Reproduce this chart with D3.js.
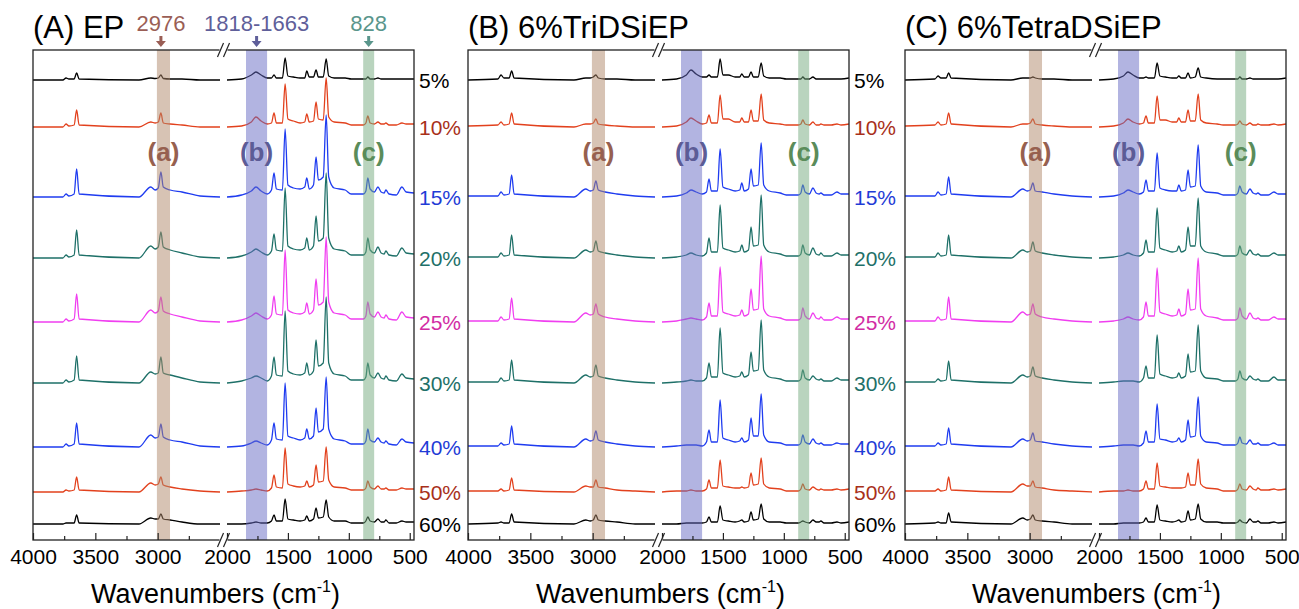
<!DOCTYPE html>
<html>
<head>
<meta charset="utf-8">
<script src="https://cdn.jsdelivr.net/npm/d3@7"></script>
<style>
  body { margin: 0; background: #fff; }
  text { font-family: Arial, "Liberation Sans", sans-serif; }
</style>
</head>
<body>
<svg id="chart" width="1299" height="609"></svg>
<script>
// ---- data ----
const concentrations = ["5%", "10%", "15%", "20%", "25%", "30%", "40%", "50%", "60%"];
const baselines = [460, 413, 343, 282, 218, 157, 93, 48, 16];   // stacking offsets (a.u.)
const panelTitles = ["(A) EP", "(B) 6%TriDSiEP", "(C) 6%TetraDSiEP"];

// wavenumber grids (cm-1) for the two halves of the broken axis
const wnLeft = [4000, 3760, 3735, 3712, 3670, 3650, 3630, 3150, 3055, 3020, 2995, 2974, 2955, 2900, 2805, 2660, 2500];
const wnRight = [2000, 1880, 1800, 1762, 1720, 1670, 1635, 1614, 1595, 1545, 1523, 1500, 1455, 1400, 1362, 1345, 1325, 1290, 1269, 1250,
                 1210, 1186, 1165, 1120, 1030, 980, 880, 860, 844, 825, 790, 761, 735, 710, 696, 670, 610, 564, 530, 465];

// (A) EP
const epLeft = [
  [0,0,2,1,1,7,1,0,2,1.5,2,5,1.5,1,1,0,0],
  [0,0,3,1,2,17,2,0,5,4,5,14,4,3,2,0,0],
  [0,0,3,1,3,28,3,0,10,7,9,25,10,7,5,1,0],
  [0,0,3,1,3,28,3,0,12,9,11,26,11,8,5,1,0],
  [0,0,3,1,3,28,3,0,12,9,11,25,11,8,5,1,0],
  [0,0,3,1,3,27,3,0,11,9,10,26,10,8,5,1,0],
  [0,0,3,1,3,24,3,0,12,9,10,23,10,7,5,1,0],
  [0,0,2,1,2,15,2,0,9,7,8,15,7,5,3,1,0],
  [0,0,1,1,1,9,1,0,6,5,5,10,5,4,2,0,0]
];
const epRight = [
  [0,1,5,8,5,2,2,5,2,2,22,4,3,2,2,9,3,3,10,3,3,21,4,2,2,1,1,1,3,1,1,2,1,1,1,1,1,1,1,1],
  [0,1,5,10,6,3,4,14,4,4,43,8,6,4,5,13,5,6,25,8,7,49,10,5,4,2,2,4,11,4,3,5,3,3,4,2,2,4,3,3],
  [0,2,6,10,6,3,7,24,8,7,68,12,9,8,10,19,8,12,40,17,20,82,20,9,7,3,3,6,19,8,5,10,5,4,7,3,2,10,5,4],
  [0,2,6,9,6,3,7,24,8,7,70,12,9,8,10,20,8,12,42,17,20,85,20,9,7,3,3,6,20,8,5,11,5,4,7,3,2,10,5,4],
  [0,2,6,9,6,3,7,26,8,7,72,12,9,8,10,19,8,12,43,17,20,85,20,9,7,3,3,6,20,8,5,10,5,4,7,3,2,10,5,4],
  [0,2,5,7,5,2,7,26,8,7,72,12,9,8,10,20,8,12,43,17,20,86,20,9,7,3,3,6,20,8,5,10,5,4,7,3,2,9,5,4],
  [0,1,4,6,4,2,7,24,8,7,64,11,9,7,9,18,8,11,39,15,18,70,18,8,6,3,3,6,18,7,5,9,5,4,6,3,2,8,5,4],
  [0,1,2,3,2,1,4,17,5,4,44,8,6,5,6,11,5,7,27,10,11,45,12,5,4,2,2,4,11,5,3,6,3,3,4,2,2,4,3,3],
  [0,0,1,2,1,1,3,9,3,3,25,5,4,3,4,8,3,5,16,6,7,24,7,3,3,1,1,3,7,3,2,5,2,2,4,1,1,3,2,2]
];

// (B) 6%TriDSiEP
const triLeft = [
  [0,1,5,2,2,9,2,0,2,2,3,5,2,1,1,0,0],
  [1,2,5,2,3,14,3,0,3,3,4,8,3,2,1,0,0],
  [1,1,5,2,3,22,3,0,8,6,7,16,7,5,3,1,0],
  [1,1,5,2,3,23,3,0,8,6,7,17,7,5,3,1,0],
  [1,1,5,2,3,24,3,0,9,7,8,18,8,5,3,1,0],
  [1,1,5,2,3,23,3,0,8,6,7,18,7,5,3,1,0],
  [1,1,4,2,3,21,3,0,8,6,7,16,7,5,3,1,0],
  [1,1,3,1,2,14,2,0,6,5,5,12,5,4,2,1,0],
  [0,1,2,1,1,10,2,0,4,3,4,9,4,3,2,0,0]
];
const triRight = [
  [0,1,5,10,6,3,3,5,3,3,21,5,5,3,3,6,3,3,8,3,3,17,4,2,2,1,1,1,3,1,1,3,1,1,1,1,1,1,1,2],
  [0,1,5,9,6,3,4,12,4,4,32,8,8,5,5,9,5,5,17,6,6,33,7,4,3,2,2,3,7,3,2,5,2,2,3,2,2,3,2,3],
  [0,1,4,7,5,3,5,18,6,6,48,10,8,6,7,14,6,8,28,11,12,54,12,6,4,2,2,4,12,5,3,9,4,3,4,2,2,5,3,3],
  [0,1,3,5,3,2,5,20,6,6,53,10,8,6,7,13,6,8,31,12,13,63,13,6,4,2,2,4,13,5,3,10,4,3,5,2,2,5,3,3],
  [0,1,3,4,3,2,5,19,6,6,55,10,8,6,7,12,6,8,33,12,13,66,13,6,4,2,2,4,14,6,3,9,4,3,5,2,2,5,3,3],
  [0,1,2,3,2,2,5,20,6,6,55,10,8,6,7,11,6,8,31,12,13,63,13,6,4,2,2,4,13,5,3,7,4,3,4,2,2,5,3,3],
  [0,1,2,2,2,1,5,17,5,5,47,9,7,5,6,9,5,7,29,11,11,53,12,5,4,2,2,4,12,5,3,8,4,3,4,2,2,4,3,3],
  [0,1,1,2,1,1,3,12,4,4,32,6,5,4,4,5,4,5,19,7,8,34,8,4,3,1,1,3,8,3,2,5,3,2,3,2,2,3,2,3],
  [0,0,1,1,1,1,2,7,2,2,18,4,3,2,3,4,2,3,12,4,5,20,5,2,2,1,1,2,3,2,1,4,2,2,3,1,1,2,1,2]
];

// (C) 6%TetraDSiEP
const tetraLeft = [
  [0,1,4,2,2,7,2,0,2,2,2,3,2,1,1,0,0],
  [1,2,5,2,3,14,3,0,3,3,4,8,3,2,1,0,0],
  [1,1,5,2,3,20,3,0,8,6,7,14,6,5,3,1,0],
  [1,1,5,2,3,23,3,0,8,6,7,16,7,5,3,1,0],
  [1,1,5,2,3,25,3,0,10,7,8,18,8,5,3,1,0],
  [1,1,4,2,3,22,3,0,8,6,7,16,7,5,3,1,0],
  [1,1,4,2,3,19,3,0,8,6,7,14,6,5,3,1,0],
  [1,1,3,1,2,15,2,0,8,6,6,11,5,4,2,1,0],
  [0,1,2,1,1,11,2,0,6,4,5,9,4,3,2,0,0]
];
const tetraRight = [
  [0,1,4,8,5,2,2,3,2,2,17,4,3,2,2,4,2,2,7,2,3,12,3,2,1,1,1,1,3,1,1,2,1,1,1,1,1,1,1,2],
  [0,1,4,8,5,3,4,11,4,4,31,7,7,5,5,9,5,5,17,6,6,33,7,4,3,2,2,3,6,3,2,4,2,2,3,2,2,3,2,3],
  [0,1,4,7,5,3,5,17,6,6,44,9,7,6,6,12,6,7,27,10,11,52,11,5,4,2,2,4,11,5,3,8,4,3,4,2,2,5,3,3],
  [0,1,3,5,3,2,5,18,6,6,50,10,8,6,7,12,6,8,31,12,12,60,12,6,4,2,2,4,12,5,3,8,4,3,4,2,2,5,3,3],
  [0,1,3,5,3,2,5,20,6,6,54,10,8,6,7,13,6,8,33,12,13,64,13,6,4,2,2,4,14,6,3,9,4,3,4,2,2,5,3,3],
  [0,1,2,2,2,1,5,17,5,5,48,9,7,5,6,10,5,7,29,11,12,58,12,5,4,2,2,4,12,5,3,7,4,3,4,2,2,6,3,3],
  [0,1,2,2,2,1,4,16,5,5,43,8,7,5,6,9,5,7,27,10,11,50,11,5,4,2,2,4,10,4,3,7,3,3,4,2,2,4,2,2],
  [0,1,1,2,1,1,3,11,3,3,29,6,5,4,4,4,4,5,19,7,7,33,8,4,3,1,1,3,8,3,2,6,3,2,4,2,2,3,2,3],
  [0,0,1,1,1,1,2,6,2,2,19,4,3,2,3,4,2,3,13,4,5,20,5,2,2,1,1,2,4,2,1,5,2,2,3,1,1,2,1,2]
];

// highlighted bands (cm-1) and their markers
const bandNames = ["(a)", "(b)", "(c)"];
const bandRanges = [[3006, 2901], [1844, 1671], [882, 792]];
const bandSide = ["left", "right", "right"];
const markerText = ["2976", "1818-1663", "828"];
const markerWn = [2974, 1757, 837];

const leftTicks = [4000, 3500, 3000], leftMinor = [3750, 3250, 2750];
const rightTicks = [2000, 1500, 1000, 500], rightMinor = [1750, 1250, 750];

// ---- styling ----
const lineColors = ["#000000", "#e2411d", "#1f3cf0", "#1e7068", "#f03ef0", "#1e7068", "#1f3cf0", "#e2411d", "#000000"];
const labelColors = ["#000000", "#a8301a", "#1f3cd6", "#1e7068", "#d22ca4", "#1e7068", "#1f3cd6", "#a8301a", "#000000"];
const bandFill = ["#af8769", "#6569c3", "#73a97d"];
const bandText = ["#96604f", "#5c5c96", "#5a8c5a"];
const markerColor = ["#9a5e55", "#5f5f9a", "#5a968c"];

const panelX = [33, 468, 905];
const showLabels = [true, true, false];
const titleShift = [-8, 2, 1];
const panelW = 381, leftW = 187, gapW = 7;
const plotTop = 50, plotBottom = 540;

const svg = d3.select("#chart");

const yScale = d3.scaleLinear().domain([0, 490]).range([plotBottom, plotTop]);

const panelData = [[epLeft, epRight], [triLeft, triRight], [tetraLeft, tetraRight]];

panelData.forEach(function (pd, p) {
  const x0 = panelX[p];
  const g = svg.append("g");

  const xL = d3.scaleLinear().domain([4000, 2500]).range([x0, x0 + leftW]);
  const xR = d3.scaleLinear().domain([2000, 465]).range([x0 + leftW + gapW, x0 + panelW]);

  // spectra
  const lineL = d3.line().x(d => xL(d[0])).y(d => yScale(d[1])).curve(d3.curveMonotoneX);
  const lineR = d3.line().x(d => xR(d[0])).y(d => yScale(d[1])).curve(d3.curveMonotoneX);

  pd[0].forEach(function (row, i) {
    g.append("path")
      .attr("d", lineL(row.map((v, j) => [wnLeft[j], v + baselines[i]])))
      .attr("fill", "none")
      .attr("stroke", lineColors[i])
      .attr("stroke-width", 1.3);
  });
  pd[1].forEach(function (row, i) {
    g.append("path")
      .attr("d", lineR(row.map((v, j) => [wnRight[j], v + baselines[i]])))
      .attr("fill", "none")
      .attr("stroke", lineColors[i])
      .attr("stroke-width", 1.3);
  });

  // shaded bands over the spectra
  bandRanges.forEach(function (r, k) {
    const sc = bandSide[k] === "left" ? xL : xR;
    g.append("rect")
      .attr("x", sc(r[0]))
      .attr("y", plotTop)
      .attr("width", sc(r[1]) - sc(r[0]))
      .attr("height", plotBottom - plotTop)
      .attr("fill", bandFill[k])
      .attr("opacity", 0.5);
    g.append("text")
      .attr("x", sc((r[0] + r[1]) / 2))
      .attr("y", 161)
      .attr("text-anchor", "middle")
      .attr("font-size", 26)
      .attr("font-weight", "bold")
      .attr("fill", bandText[k])
      .text(bandNames[k]);
  });

  // frame
  g.append("rect")
    .attr("x", x0).attr("y", plotTop)
    .attr("width", panelW).attr("height", plotBottom - plotTop)
    .attr("fill", "none").attr("stroke", "#222").attr("stroke-width", 1.3);

  // axes (ticks point inward)
  const axL = g.append("g").attr("transform", "translate(0," + plotBottom + ")")
    .call(d3.axisBottom(xL).tickValues(leftTicks).tickSize(-7).tickPadding(9).tickFormat(d3.format("d")));
  const axR = g.append("g").attr("transform", "translate(0," + plotBottom + ")")
    .call(d3.axisBottom(xR).tickValues(rightTicks).tickSize(-7).tickPadding(9).tickFormat(d3.format("d")));
  g.append("g").attr("transform", "translate(0," + plotBottom + ")")
    .call(d3.axisBottom(xL).tickValues(leftMinor).tickSize(-4).tickFormat(""));
  g.append("g").attr("transform", "translate(0," + plotBottom + ")")
    .call(d3.axisBottom(xR).tickValues(rightMinor).tickSize(-4).tickFormat(""));
  g.selectAll(".domain").remove();
  g.selectAll(".tick line").attr("stroke", "#222").attr("stroke-width", 1.2);
  [axL, axR].forEach(a => a.selectAll("text")
    .attr("font-size", 21).attr("fill", "#000")
    .style("font-family", "Arial, 'Liberation Sans', sans-serif"));

  // axis break marks
  const bx = x0 + leftW + gapW / 2;
  [plotTop, plotBottom].forEach(function (yy) {
    g.append("rect").attr("x", bx - 4).attr("y", yy - 2).attr("width", 8).attr("height", 4).attr("fill", "#fff");
    [-3, 3].forEach(function (dx) {
      g.append("line")
        .attr("x1", bx + dx - 3).attr("y1", yy + 7)
        .attr("x2", bx + dx + 3).attr("y2", yy - 7)
        .attr("stroke", "#222").attr("stroke-width", 1.2);
    });
  });

  // concentration labels (not repeated after the last panel)
  if (showLabels[p]) {
    concentrations.forEach(function (c, i) {
      g.append("text")
        .attr("x", x0 + panelW + 5)
        .attr("y", yScale(baselines[i]))
        .attr("dy", "0.36em")
        .attr("font-size", 21)
        .attr("fill", labelColors[i])
        .text(c);
    });
  }

  // panel title
  g.append("text")
    .attr("x", x0)
    .attr("y", 38)
    .attr("font-size", 31)
    .attr("fill", "#000")
    .text(panelTitles[p]);

  // x-axis title
  const xt = g.append("text")
    .attr("x", x0 + panelW / 2 + titleShift[p])
    .attr("y", 603)
    .attr("text-anchor", "middle")
    .attr("font-size", 27)
    .attr("fill", "#000");
  xt.append("tspan").text("Wavenumbers (cm");
  xt.append("tspan").attr("dy", -11).attr("font-size", 16).text("-1");
  xt.append("tspan").attr("dy", 11).text(")");
});

// band markers above panel A
const xA0 = panelX[0];
const xAL = d3.scaleLinear().domain([4000, 2500]).range([xA0, xA0 + leftW]);
const xAR = d3.scaleLinear().domain([2000, 465]).range([xA0 + leftW + gapW, xA0 + panelW]);
markerText.forEach(function (t, k) {
  const cx = (bandSide[k] === "left" ? xAL : xAR)(markerWn[k]);
  svg.append("text")
    .attr("x", cx).attr("y", 31)
    .attr("text-anchor", "middle")
    .attr("font-size", 22)
    .attr("fill", markerColor[k])
    .text(t);
  svg.append("path")
    .attr("d", "M" + (cx - 1.5) + ",36 h3 v5 h3.5 l-5,6 l-5,-6 h3.5 z")
    .attr("fill", markerColor[k]);
});
</script>
</body>
</html>
